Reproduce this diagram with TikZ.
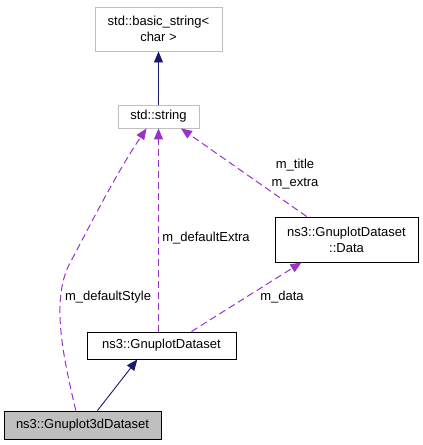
\documentclass[tikz,border=0pt]{standalone}
\usepackage{fontspec}
\setmainfont{Liberation Sans}
\usetikzlibrary{arrows.meta}
\definecolor{edgeblue}{HTML}{191970}
\definecolor{edgepurple}{HTML}{9A32CD}
\definecolor{boxgray}{HTML}{BFBFBF}
\begin{document}
\begin{tikzpicture}[x=1pt,y=-1pt,font=\fontsize{13}{16}\selectfont,
  cls/.style={draw=black,fill=white,line width=0.9pt,inner sep=0pt,align=center},
  ext/.style={cls,draw=boxgray},
  inherit/.style={draw=edgeblue,line width=0.9pt,-{Triangle[length=11pt,width=9pt]}},
  usage/.style={draw=edgepurple,line width=1pt,dash pattern=on 7pt off 4pt,
    -{Triangle[length=11pt,width=9pt,fill=edgepurple]}},
  lbl/.style={inner sep=0pt,align=center}]
\useasboundingbox (0,0) rectangle (423,445);
\node[ext, minimum width=127pt, minimum height=44pt] (basic) at (158.5,29) {std::basic\_string<\\char >};
\node[ext, minimum width=81pt, minimum height=23pt] (string) at (158.5,116.5) {std::string};
\node[cls, minimum width=143pt, minimum height=45pt] (data) at (346.5,239.5) {ns3::GnuplotDataset\\::Data};
\node[cls, minimum width=149pt, minimum height=27pt] (dataset) at (161.5,345.5) {ns3::GnuplotDataset};
\node[cls, fill=boxgray, minimum width=157pt, minimum height=28pt] (dataset3d) at (82.5,425) {ns3::Gnuplot3dDataset};
\coordinate (bend) at (70,263);
\draw[inherit] (string.north) -- (basic.south);
\draw[inherit] (dataset3d.44) -- (dataset.210);
\draw[usage] (dataset3d.115) .. controls (64,360) and (50,300) .. (bend)
  .. controls (85,235) and (115,175) .. (string.225);
\draw[usage] (string.south |- dataset.north) -- (string.south);
\draw[usage] (data.150) -- (string.332);
\draw[usage] (dataset.25) -- (data.207);
\node[lbl] (style) at (108,297) {m\_defaultStyle};
\node[lbl] (extra) at (206,238) {m\_defaultExtra};
\node[lbl] (title) at (295,174) {m\_title\\[2pt]m\_extra};
\node[lbl] (mdata) at (282,297) {m\_data};
\end{tikzpicture}
\end{document}
